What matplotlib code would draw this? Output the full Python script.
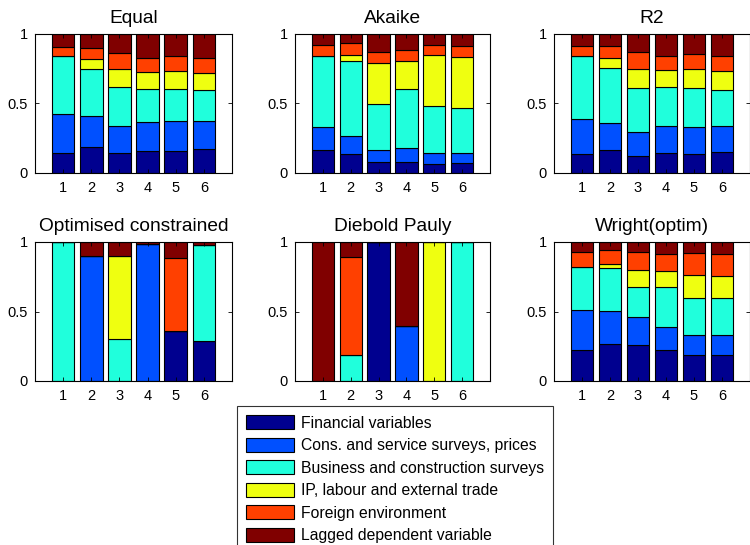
import matplotlib
matplotlib.use("Agg")
import matplotlib.pyplot as plt
import numpy as np
from matplotlib.patches import Patch

plt.rcParams['font.family'] = ['Liberation Sans', 'DejaVu Sans']

horizons = [1, 2, 3, 4, 5, 6]
groups = ["Financial variables", "Cons. and service surveys, prices",
          "Business and construction surveys", "IP, labour and external trade",
          "Foreign environment", "Lagged dependent variable"]
colors = ["#00008F", "#0050FF", "#20FFDC", "#EFFF10", "#FF4000", "#800000"]

# cumulative tops (per horizon) of first five groups; last group fills to 1
equal_cum = [
    [0.144, 0.189, 0.146, 0.161, 0.161, 0.175],
    [0.424, 0.410, 0.338, 0.367, 0.372, 0.376],
    [0.842, 0.748, 0.616, 0.604, 0.607, 0.600],
    [0.842, 0.820, 0.746, 0.727, 0.736, 0.719],
    [0.904, 0.899, 0.866, 0.830, 0.842, 0.827],
]
akaike_cum = [
    [0.168, 0.134, 0.077, 0.079, 0.065, 0.070],
    [0.333, 0.266, 0.168, 0.182, 0.144, 0.144],
    [0.842, 0.808, 0.496, 0.602, 0.480, 0.470],
    [0.842, 0.849, 0.791, 0.806, 0.849, 0.837],
    [0.918, 0.935, 0.873, 0.882, 0.918, 0.911],
]
r2_cum = [
    [0.139, 0.163, 0.125, 0.144, 0.139, 0.153],
    [0.388, 0.362, 0.295, 0.336, 0.333, 0.338],
    [0.842, 0.758, 0.612, 0.616, 0.612, 0.600],
    [0.842, 0.825, 0.751, 0.741, 0.748, 0.736],
    [0.911, 0.911, 0.871, 0.842, 0.856, 0.842],
]
optcon_cum = [
    [0.000, 0.000, 0.000, 0.000, 0.363, 0.288],
    [0.000, 0.897, 0.000, 0.986, 0.363, 0.288],
    [1.000, 0.897, 0.300, 0.986, 0.363, 0.978],
    [1.000, 0.897, 0.897, 0.986, 0.363, 0.978],
    [1.000, 0.897, 0.897, 0.986, 0.885, 0.978],
]
diebold_cum = [
    [0.000, 0.000, 1.000, 0.000, 0.000, 0.000],
    [0.000, 0.000, 1.000, 0.399, 0.000, 0.000],
    [0.000, 0.185, 1.000, 0.399, 0.000, 1.000],
    [0.000, 0.185, 1.000, 0.399, 1.000, 1.000],
    [0.000, 0.894, 1.000, 0.399, 1.000, 1.000],
]
wright_cum = [
    [0.221, 0.264, 0.262, 0.221, 0.188, 0.185],
    [0.510, 0.502, 0.459, 0.387, 0.334, 0.329],
    [0.817, 0.813, 0.675, 0.675, 0.596, 0.594],
    [0.817, 0.841, 0.798, 0.793, 0.762, 0.752],
    [0.928, 0.942, 0.928, 0.913, 0.921, 0.913],
]

panels = [
    ("Equal", equal_cum), ("Akaike", akaike_cum), ("R2", r2_cum),
    ("Optimised constrained", optcon_cum), ("Diebold Pauly", diebold_cum),
    ("Wright(optim)", wright_cum),
]

W, H = 750, 545
fig = plt.figure(figsize=(7.5, 5.45), dpi=100)

# axes pixel boxes (left, top, right, bottom)
boxes = [
    (35, 34, 232, 173), (295, 34, 490, 173), (554, 34, 750, 173),
    (35, 242, 232, 381), (295, 242, 490, 381), (554, 242, 750, 381),
]

for (title, cum), (l, t, r, b) in zip(panels, boxes):
    ax = fig.add_axes([l / W, 1 - b / H, (r - l) / W, (b - t) / H])
    cum_arr = np.vstack([np.zeros(6), np.array(cum), np.ones(6)])
    for k in range(6):
        bottoms = cum_arr[k]
        heights = cum_arr[k + 1] - cum_arr[k]
        ax.bar(horizons, heights, bottom=bottoms, width=0.8, color=colors[k],
               edgecolor='black', linewidth=0.8)
    ax.set_xlim(0, 7)
    ax.set_ylim(0, 1)
    ax.set_xticks(horizons)
    ax.set_yticks([0, 0.5, 1])
    ax.set_yticklabels(["0", "0.5", "1"])
    ax.tick_params(direction='in', top=True, right=True, labelsize=10.5,
                   length=3, width=0.6)
    ax.tick_params(axis='x', pad=6)
    ax.tick_params(axis='y', pad=5)
    for s in ax.spines.values():
        s.set_linewidth(0.8)
    ax.set_title(title, fontsize=13.8, pad=8)

# legend
handles = [Patch(facecolor=c, edgecolor='black', linewidth=0.8) for c in colors]
leg = fig.legend(handles, groups, loc='upper left',
                 bbox_to_anchor=(237 / W, 1 - 406 / H, (553 - 237) / W, 0.0),
                 mode='expand', fontsize=11.3, frameon=True, fancybox=False,
                 edgecolor='black', handlelength=3.05, handleheight=1.0,
                 handletextpad=0.4, labelspacing=0.45, borderpad=0.6,
                 borderaxespad=0)
leg.get_frame().set_linewidth(0.8)

fig.savefig("out.png", dpi=100)
